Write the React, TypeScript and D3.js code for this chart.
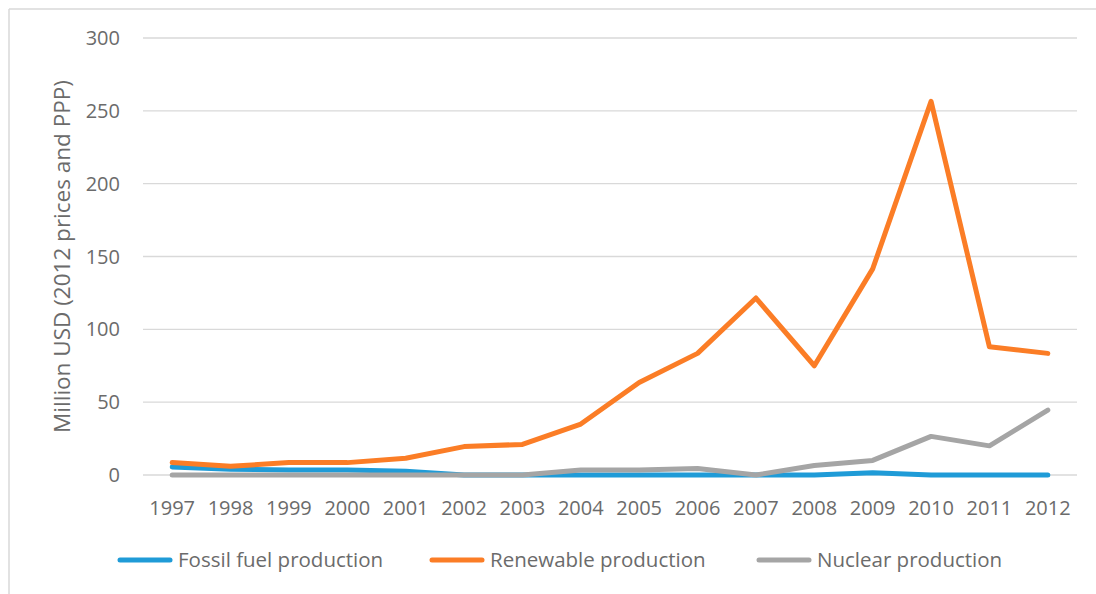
import React from "react";
import * as d3 from "d3";

const years = ["1997","1998","1999","2000","2001","2002","2003","2004","2005","2006","2007","2008","2009","2010","2011","2012"];
const fossil = [5.5, 4, 3.5, 3.5, 2.5, 0, 0, 0, 0, 0, 0, 0, 1.5, 0, 0, 0];
const renewable = [8.5, 6, 8.5, 8.5, 11.5, 19.5, 21, 35, 63.5, 83.5, 121.5, 75, 141.5, 256.5, 88, 83.5];
const nuclear = [0, 0, 0, 0, 0, 0, 0, 3.5, 3.5, 4.5, 0, 6.5, 10, 26.5, 20, 44.5];
const yTicks = [0, 50, 100, 150, 200, 250, 300];
const seriesNames = ["Fossil fuel production", "Renewable production", "Nuclear production"];
const colors = ["#1f9bd7", "#fb7d26", "#a5a5a5"];

const W = 1096, H = 594;
const left = 143, right = 1077, top = 38, bottom = 475;
const FONT = "'Open Sans', 'Noto Sans', sans-serif";
const TXT = "#6b6b6b";

export default function App() {
  const x = d3.scaleBand<string>().domain(years).range([left, right]);
  const y = d3.scaleLinear().domain([0, 300]).range([bottom, top]);
  const cx = (d: string) => (x(d) as number) + x.bandwidth() / 2;
  const line = d3.line<number>().x((_, i) => cx(years[i])).y((v) => y(v));
  const data = [fossil, renewable, nuclear];
  const legendX = [118, 430, 757];
  return (
    <svg width={W} height={H} style={{ position: "absolute", left: 0, top: 0, background: "#fff" }} fontFamily={FONT}>
      <rect x={0} y={0} width={W} height={H} fill="#fff" />
      <line x1={9} x2={W} y1={9} y2={9} stroke="#d9d9d9" strokeWidth={1.5} />
      <line x1={9} x2={9} y1={9} y2={H} stroke="#d9d9d9" strokeWidth={1.5} />
      {yTicks.map((t) => (
        <g key={t}>
          <line x1={left} x2={right} y1={y(t)} y2={y(t)} stroke="#d9d9d9" strokeWidth={1.3} />
          <text x={120} y={y(t)} dy="0.35em" textAnchor="end" fontSize={20} fill={TXT}>{t}</text>
        </g>
      ))}
      {years.map((yr) => (
        <text key={yr} x={cx(yr)} y={508} dy="0.35em" textAnchor="middle" fontSize={20} fill={TXT}>{yr}</text>
      ))}
      <text transform={`translate(62,${(top + bottom) / 2}) rotate(-90)`} textAnchor="middle" dy="0.35em" fontSize={22.5} fill={TXT}>
        Million USD (2012 prices and PPP)
      </text>
      {data.map((d, i) => (
        <path key={i} d={line(d) as string} fill="none" stroke={colors[i]} strokeWidth={5} strokeLinejoin="round" strokeLinecap="round" />
      ))}
      {seriesNames.map((n, i) => (
        <g key={n}>
          <line x1={legendX[i] + 2} x2={legendX[i] + 52} y1={560} y2={560} stroke={colors[i]} strokeWidth={5} strokeLinecap="round" />
          <text x={legendX[i] + 60} y={560} dy="0.35em" fontSize={20.5} fill={TXT}>{n}</text>
        </g>
      ))}
    </svg>
  );
}
